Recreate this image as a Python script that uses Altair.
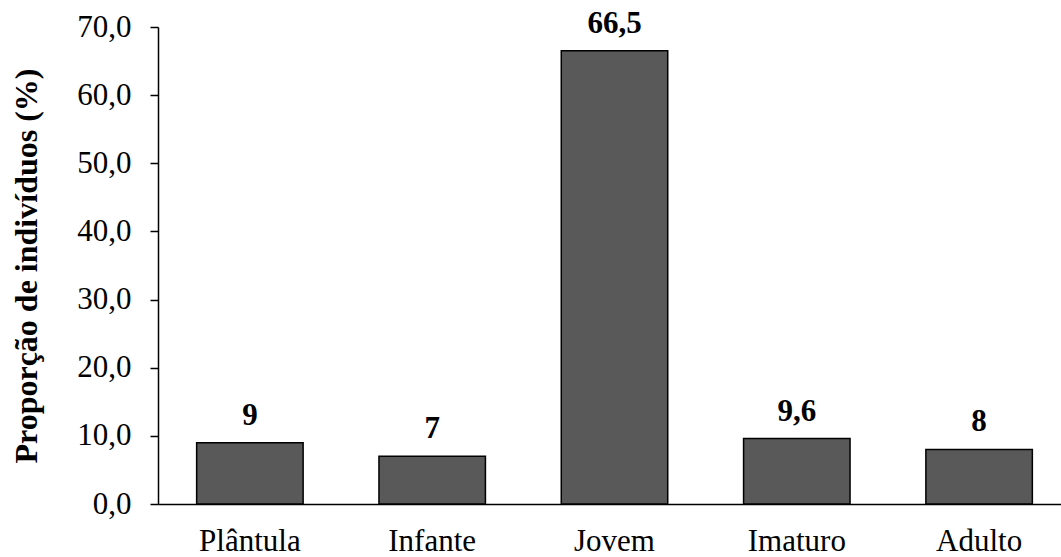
import altair as alt
import pandas as pd

# Proportion of individuals per ontogenetic stage
stages = ["Plântula", "Infante", "Jovem", "Imaturo", "Adulto"]
proportions = [9, 7, 66.5, 9.6, 8]
value_labels = ["9", "7", "66,5", "9,6", "8"]
y_ticks = [0, 10, 20, 30, 40, 50, 60, 70]

df = pd.DataFrame({"stage": stages, "value": proportions, "label": value_labels})

FONT = "Liberation Serif"
FS = 31

# the category axis runs slightly past the right edge of the canvas
x_scale = alt.Scale(paddingInner=0.416, paddingOuter=0.212, range=[0, 913])

x = alt.X(
    "stage:N",
    sort=stages,
    scale=x_scale,
    axis=alt.Axis(
        title=None,
        labelAngle=0,
        ticks=False,
        labelFont=FONT,
        labelFontSize=FS,
        labelColor="black",
        labelPadding=22,
        domainColor="black",
        domainWidth=1.5,
    ),
)

y = alt.Y(
    "value:Q",
    scale=alt.Scale(domain=[0, 70], nice=False),
    axis=alt.Axis(
        title="Proporção de indivíduos (%)",
        values=y_ticks,
        labelExpr="replace(format(datum.value, '.1f'), '.', ',')",
        grid=False,
        tickSize=8,
        tickColor="black",
        tickWidth=1.5,
        domainColor="black",
        domainWidth=1.5,
        labelFont=FONT,
        labelFontSize=FS,
        labelColor="black",
        labelPadding=19,
        titleFont=FONT,
        titleFontSize=32,
        titleFontWeight="bold",
        titleColor="black",
        titlePadding=33,
    ),
)

bars = alt.Chart(df).mark_bar(
    color="#595959", stroke="black", strokeWidth=1.5
).encode(x=x, y=y)

labels = alt.Chart(df).mark_text(
    font=FONT, fontSize=FS, fontWeight="bold", color="black",
    baseline="alphabetic", dy=-18,
).encode(x=alt.X("stage:N", sort=stages, scale=x_scale), y="value:Q", text="label:N")

chart = (
    alt.layer(bars, labels)
    .properties(
        width=903,
        height=477,
        autosize=alt.AutoSizeParams(type="none"),
        padding={"left": 158, "top": 27, "right": 0, "bottom": 53},
        background="white",
    )
    .configure_view(stroke=None)
)

chart.save("out.html", embed_options={"renderer": "svg", "actions": False})
